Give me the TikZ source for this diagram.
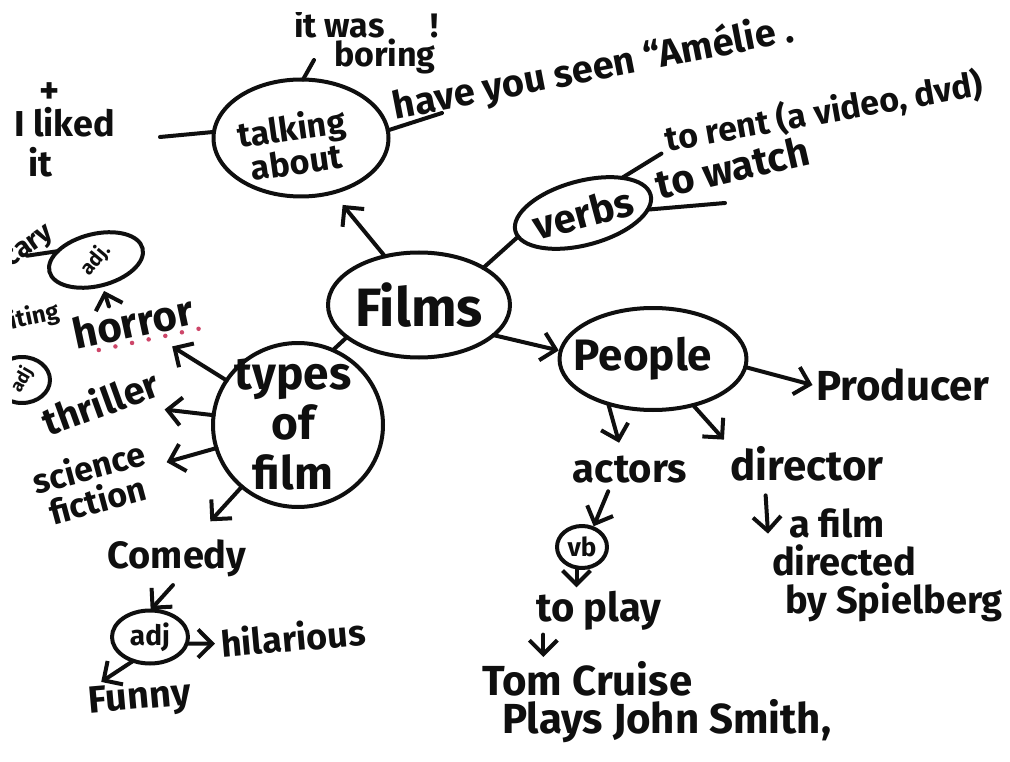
\documentclass[tikz,border=0pt]{standalone}
\usepackage{fontspec}
\setmainfont{Fira Sans}
\usetikzlibrary{shapes.geometric,arrows.meta}
\definecolor{ink}{RGB}{15,15,15}
\definecolor{dotred}{RGB}{205,70,105}
\newcommand\fsz[2]{\fontsize{#1}{#2}\selectfont\bfseries}
\begin{document}
\begin{tikzpicture}[x=1pt,y=-1pt,line width=4pt,line cap=round,line join=round,color=ink,
  bub/.style={ellipse,draw,inner sep=0pt,outer sep=0pt},
  arr/.style={-{Straight Barb[length=14pt,width=28pt]}},
  txt/.style={inner sep=2pt,align=center},
  lab/.style={inner sep=0pt,align=center,text=ink}]
\useasboundingbox (0,0) rectangle (1010,762);
\fill[white] (0,0) rectangle (1010,762);

% bubbles
\node[bub,minimum width=182pt,minimum height=105pt,label={[lab,font=\fsz{54}{54}]center:Films}] (films) at (419,305) {};
\node[bub,minimum width=175pt,minimum height=117pt,label={[lab,rotate=8,xshift=-8pt,yshift=-5pt,font=\fsz{34}{32}]center:{talking\\about}}] (talk) at (301,138) {};
\node[bub,rotate=15,minimum width=140pt,minimum height=64pt,label={[lab,rotate=15,font=\fsz{40}{40}]center:verbs}] (verbs) at (583,213) {};
\node[bub,minimum width=187pt,minimum height=102pt,label={[lab,xshift=-10pt,font=\fsz{44}{44}]center:People}] (people) at (653,359) {};
\node[bub,minimum width=170pt,minimum height=164pt,label={[lab,xshift=-5pt,font=\fsz{46}{50}]center:{types\\of\\film}}] (types) at (298,425) {};
\node[bub,rotate=14,minimum width=96pt,minimum height=52pt,label={[lab,rotate=50,font=\fsz{20}{20}]center:adj.}] (adj1) at (96,260) {};
\node[bub,minimum width=56pt,minimum height=46pt,label={[lab,rotate=60,font=\fsz{18}{18}]center:adj}] (adj2) at (22,380) {};
\node[bub,minimum width=76pt,minimum height=53pt,label={[lab,font=\fsz{28}{28}]center:adj}] (adj3) at (150,637) {};
\node[bub,minimum width=50pt,minimum height=42pt,label={[lab,font=\fsz{26}{26}]center:vb}] (vb) at (582,547) {};

% texts
\node[txt,anchor=north west,align=left,font=\fsz{34}{25}] (boring) at (290,6) {it was\hspace{46pt}!\\\hspace{40pt}boring};
\node[txt,anchor=base west,rotate=11,font=\fsz{38}{38}] (amelie) at (392,120) {have you seen “Amélie .};
\node[txt,anchor=base west,rotate=10,font=\fsz{34}{34}] (torent) at (664,152) {to rent (a video, dvd)};
\node[txt,anchor=base west,rotate=13,font=\fsz{40}{40}] (towatch) at (656,200) {to watch};
\node[txt,anchor=north west,align=left,font=\fsz{36}{40}] (liked) at (10,103) {I liked\\\hspace{14pt}it};
\node[txt,font=\fsz{38}{38}] (plus) at (50,93) {+};
\node[txt,font=\fsz{42}{42}] (producer) at (903,385) {Producer};
\node[txt,font=\fsz{40}{40}] (actors) at (630,470) {actors};
\node[txt,font=\fsz{42}{42}] (director) at (807,464) {director};
\node[txt,anchor=north west,align=left,font=\fsz{38}{38}] (afilm) at (768,505) {\hspace{17pt}a film\\directed\\\hspace{13pt}by Spielberg};
\node[txt,font=\fsz{40}{40}] (toplay) at (599,611) {to play};
\node[txt,anchor=north west,align=left,font=\fsz{42}{38}] (tom) at (478,657) {Tom Cruise\\\hspace{20pt}Plays John Smith,};
\node[txt,rotate=12,font=\fsz{42}{42}] (horror) at (133,322) {horror};
\node[txt,rotate=20,font=\fsz{38}{38}] (thriller) at (100,402) {thriller};
\node[txt,rotate=15,font=\fsz{34}{34}] (scifi) at (93,483) {science\\fiction};
\node[txt,font=\fsz{38}{38}] (comedy) at (177,558) {Comedy};
\node[txt,rotate=5,font=\fsz{36}{36}] (hilarious) at (293,637) {hilarious};
\node[txt,rotate=5,font=\fsz{38}{38}] (funny) at (140,700) {Funny};
\node[txt,anchor=base east,rotate=12,font=\fsz{24}{24}] (exciting) at (64,318) {exciting};
\node[txt,anchor=base east,rotate=35,font=\fsz{28}{28}] (scary) at (58,234) {scary};

% free ends
\coordinate (bo) at (314,60);
\coordinate (hv) at (442,113);
\coordinate (lk) at (160,137);
\coordinate (tw) at (725,203);

% connectors
\draw[arr,shorten >=16pt] (films.125) -- (talk.-60);
\draw (films.30) -- (verbs.185);
\draw[arr,shorten >=2pt] (films.-22) -- (people.175);
\draw (films.204) -- (types.65);
\draw (talk.88) -- (bo);
\draw (talk.5) -- (hv);
\draw (talk.176) -- (lk);
\draw[shorten >=3pt] (verbs.27) -- (torent.base west);
\draw (verbs.-12) -- (tw);
\draw[arr] (people.-5) -- (producer.west);
\draw[arr,shorten >=10pt] (people.-135) -- (actors.115);
\draw[arr,shorten >=4pt] (people.-49) -- (director.north west);
\draw[arr,shorten <=10pt] (director.-153) -- (afilm.165);
\draw[arr,shorten <=4pt,shorten >=2pt] (actors.-139) -- (vb.60);
\draw[arr] (vb.-105) -- (vb.-105 |- toplay.north);
\draw[arr] (toplay.-157) -- (toplay.-157 |- tom.north);
\draw[arr,shorten >=17pt] (types) -- (horror);
\draw[arr,shorten >=21pt] (types) -- (thriller);
\draw[arr,shorten >=15pt] (types) -- (scifi);
\draw[arr,shorten >=19pt] (types) -- (comedy);
\draw[arr,shorten >=6pt] (horror.135) -- (adj1.south);
\draw (adj1.153) -- (scary.base);
\draw[arr,shorten <=6pt,shorten >=1pt] (comedy.south) -- (adj3.north);
\draw[arr,shorten >=2pt] (adj3.-10) -- (hilarious.west);
\draw[arr] (adj3.-125) -- (funny.150);

% red dots under horror
\draw[dotred,line width=4.5pt,dash pattern=on 0pt off 17pt,shorten <=26pt] (horror.south west) -- (horror.south east);

% scan margins
\fill[white] (0,0) rectangle (1010,12);
\fill[white] (0,0) rectangle (12,762);
\end{tikzpicture}
\end{document}
